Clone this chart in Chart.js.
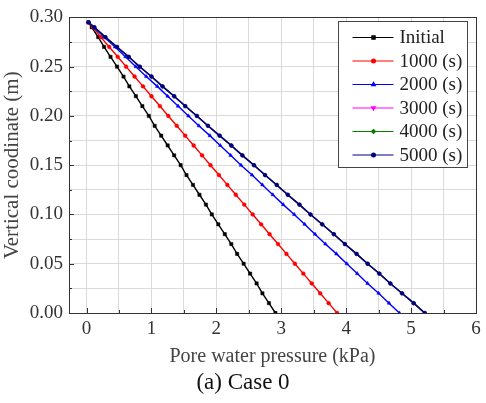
<!DOCTYPE html>
<html>
<head>
<meta charset="utf-8">
<script src="https://cdn.jsdelivr.net/npm/chart.js@4.4.1/dist/chart.umd.min.js"></script>
<style>
  html, body { margin: 0; padding: 0; background: #fff; }
  #wrap { position: relative; width: 486px; height: 403px; }
  #caption {
    position: absolute; left: 0; top: 369px; width: 486px;
    text-align: center; font: 23px "Liberation Serif", "Times New Roman", serif;
    line-height: 26px; color: #111;
  }
</style>
</head>
<body>
<div id="wrap">
  <canvas id="chart" width="486" height="403"></canvas>
  <div id="caption">(a) Case 0</div>
</div>
<script>
// vertical coordinate of each node (m), top to bottom
const depth = [0.295, 0.29, 0.28, 0.27, 0.26, 0.25, 0.24, 0.23, 0.22, 0.21, 0.20,
  0.19, 0.18, 0.17, 0.16, 0.15, 0.14, 0.13, 0.12, 0.11, 0.10,
  0.09, 0.08, 0.07, 0.06, 0.05, 0.04, 0.03, 0.02, 0.01, 0.00];

// pore water pressure (kPa) at each node
const initial = [0.03, 0.08, 0.18, 0.27, 0.37, 0.47, 0.57, 0.66, 0.76, 0.86, 0.96,
  1.05, 1.15, 1.25, 1.35, 1.45, 1.54, 1.64, 1.74, 1.84, 1.93,
  2.03, 2.13, 2.23, 2.32, 2.42, 2.52, 2.62, 2.71, 2.81, 2.91];
const t1000 = [0.03, 0.10, 0.22, 0.35, 0.48, 0.61, 0.74, 0.87, 1.00, 1.13, 1.26,
  1.39, 1.52, 1.65, 1.78, 1.91, 2.04, 2.17, 2.30, 2.43, 2.56,
  2.69, 2.82, 2.95, 3.08, 3.21, 3.34, 3.47, 3.60, 3.73, 3.86];
const t2000 = [0.03, 0.11, 0.27, 0.44, 0.60, 0.76, 0.92, 1.09, 1.25, 1.41, 1.57,
  1.73, 1.90, 2.06, 2.22, 2.38, 2.55, 2.71, 2.87, 3.03, 3.20,
  3.36, 3.52, 3.68, 3.85, 4.01, 4.17, 4.33, 4.50, 4.66, 4.82];
const t3000 = [0.03, 0.12, 0.29, 0.47, 0.65, 0.82, 1.00, 1.17, 1.35, 1.52, 1.70,
  1.87, 2.05, 2.23, 2.40, 2.58, 2.75, 2.93, 3.10, 3.28, 3.45,
  3.63, 3.81, 3.98, 4.16, 4.33, 4.51, 4.68, 4.86, 5.04, 5.21];
const t4000 = [0.03, 0.12, 0.29, 0.47, 0.65, 0.82, 1.00, 1.17, 1.35, 1.52, 1.70,
  1.87, 2.05, 2.23, 2.40, 2.58, 2.75, 2.93, 3.10, 3.28, 3.45,
  3.63, 3.81, 3.98, 4.16, 4.33, 4.51, 4.68, 4.86, 5.04, 5.21];
const t5000 = [0.03, 0.12, 0.29, 0.47, 0.65, 0.82, 1.00, 1.17, 1.35, 1.52, 1.70,
  1.87, 2.05, 2.23, 2.40, 2.58, 2.75, 2.93, 3.10, 3.28, 3.45,
  3.63, 3.81, 3.98, 4.16, 4.33, 4.51, 4.68, 4.86, 5.04, 5.21];

const seriesNames = ['Initial', '1000 (s)', '2000 (s)', '3000 (s)', '4000 (s)', '5000 (s)'];
const seriesValues = [initial, t1000, t2000, t3000, t4000, t5000];

const xMajorTicks = [0, 1, 2, 3, 4, 5, 6];
const xAllTicks = [0, 0.5, 1, 1.5, 2, 2.5, 3, 3.5, 4, 4.5, 5, 5.5, 6];
const yMajorTicks = [0, 0.05, 0.1, 0.15, 0.2, 0.25, 0.3];
const yAllTicks = [0, 0.025, 0.05, 0.075, 0.1, 0.125, 0.15, 0.175, 0.2, 0.225, 0.25, 0.275, 0.3];

const colors = ['#000000', '#ff0000', '#0000ff', '#ff00ff', '#008000', '#000080'];
const markers = [
  { style: 'rect', rot: 0, r: 2.3 },
  { style: 'circle', rot: 0, r: 1.9 },
  { style: 'triangle', rot: 0, r: 2.1 },
  { style: 'triangle', rot: 180, r: 2.1 },
  { style: 'rectRot', rot: 0, r: 2 },
  { style: 'circle', rot: 0, r: 1.9 }
];

const serif = '"Liberation Serif", "Times New Roman", serif';

const datasets = seriesNames.map((name, i) => ({
  label: name,
  data: seriesValues[i].map((p, k) => ({ x: p, y: depth[k] })),
  showLine: true,
  borderColor: colors[i],
  backgroundColor: colors[i],
  borderWidth: 1.4,
  pointStyle: markers[i].style,
  rotation: markers[i].rot,
  pointRadius: markers[i].r,
  pointBorderWidth: 0.5,
  order: seriesNames.length - i
}));

// frame, inward ticks, and the boxed legend
const framePlugin = {
  id: 'framePlugin',
  afterDraw(chart) {
    const { ctx, chartArea: a } = chart;
    const xs = chart.scales.x, ys = chart.scales.y;
    ctx.save();
    ctx.strokeStyle = '#333';
    ctx.lineWidth = 1;
    ctx.beginPath();
    xAllTicks.forEach(v => {
      const px = Math.round(xs.getPixelForValue(v)) + 0.5;
      const len = xMajorTicks.includes(v) ? 5 : 3;
      ctx.moveTo(px, a.bottom); ctx.lineTo(px, a.bottom - len);
    });
    yAllTicks.forEach(v => {
      const py = Math.round(ys.getPixelForValue(v)) + 0.5;
      const len = yMajorTicks.includes(v) ? 5 : 3;
      ctx.moveTo(a.left, py); ctx.lineTo(a.left + len, py);
    });
    ctx.stroke();
    ctx.strokeRect(Math.round(a.left) + 0.5, Math.round(a.top) + 0.5,
      Math.round(a.right - a.left), Math.round(a.bottom - a.top));

    // legend
    const bx = 338.5, by = 21.5, bw = 129, bh = 146;
    ctx.fillStyle = '#fff';
    ctx.fillRect(bx, by, bw, bh);
    ctx.strokeStyle = '#444';
    ctx.strokeRect(bx, by, bw, bh);
    ctx.font = '19px ' + serif;
    ctx.textBaseline = 'middle';
    chart.data.datasets.forEach((ds, i) => {
      const y = by + 16 + i * 23.5;
      ctx.strokeStyle = ds.borderColor;
      ctx.lineWidth = 1.2;
      ctx.beginPath();
      ctx.moveTo(bx + 14, y); ctx.lineTo(bx + 55, y);
      ctx.stroke();
      ctx.fillStyle = ds.backgroundColor;
      Chart.helpers.drawPoint(ctx, { pointStyle: ds.pointStyle, radius: ds.pointRadius, rotation: ds.rotation, borderWidth: 0.5 }, bx + 35, y);
      ctx.fillStyle = '#222';
      ctx.fillText(ds.label, bx + 61, y + 1);
    });
    ctx.restore();
  }
};

new Chart(document.getElementById('chart'), {
  type: 'scatter',
  data: { datasets: datasets },
  options: {
    responsive: false,
    animation: false,
    layout: { padding: { left: 0, top: 15, right: 10, bottom: 34 } },
    plugins: { legend: { display: false }, tooltip: { enabled: false } },
    scales: {
      x: {
        type: 'linear',
        min: -0.27,
        max: 6,
        afterBuildTicks: s => { s.ticks = xAllTicks.map(v => ({ value: v })); },
        afterFit: s => { s.height = 56; },
        ticks: {
          autoSkip: false, maxRotation: 0, padding: 5,
          color: '#333', font: { family: serif, size: 19 },
          callback: v => xMajorTicks.includes(v) ? String(v) : ''
        },
        grid: { color: '#dadada', lineWidth: 1, drawTicks: false },
        border: { display: false },
        title: {
          display: true, text: 'Pore water pressure (kPa)',
          color: '#444', font: { family: serif, size: 20 },
          padding: { top: 0, bottom: 0 }
        }
      },
      y: {
        type: 'linear',
        min: 0,
        max: 0.3,
        afterBuildTicks: s => { s.ticks = yAllTicks.map(v => ({ value: v })); },
        afterFit: s => { s.width = 69; },
        ticks: {
          autoSkip: false, padding: 6,
          color: '#333', font: { family: serif, size: 19 },
          callback: v => yMajorTicks.includes(v) ? v.toFixed(2) : ''
        },
        grid: { color: '#dadada', lineWidth: 1, drawTicks: false },
        border: { display: false },
        title: {
          display: true, text: 'Vertical coodinate (m)',
          color: '#444', font: { family: serif, size: 21 },
          padding: { top: 0, bottom: 0 }
        }
      }
    }
  },
  plugins: [framePlugin]
});
</script>
</body>
</html>
